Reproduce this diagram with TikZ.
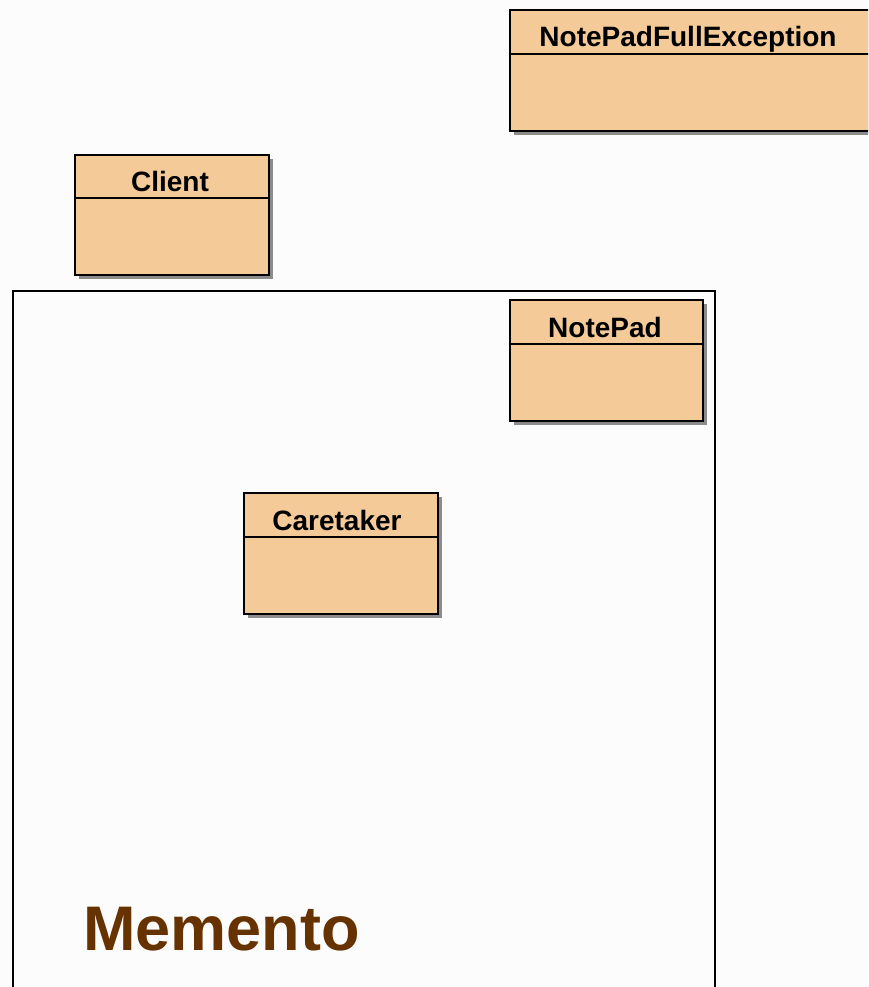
\documentclass[tikz,border=0pt]{standalone}
\usepackage{fontspec}
\setmainfont{Liberation Sans}
\definecolor{classfill}{HTML}{F4CB98}
\definecolor{pkgbrown}{HTML}{663300}
\definecolor{bgcol}{HTML}{FCFCFC}
\tikzset{
  classbox/.style={draw=black,line width=2.4pt,fill=classfill},
  classshadow/.style={fill=black!45},
  classname/.style={font=\fontsize{28}{28}\selectfont\bfseries,inner sep=0pt,anchor=base},
  pkgframe/.style={draw=black,line width=2.5pt},
}

\begin{document}
\begin{tikzpicture}[x=1pt,y=-1pt]
        \useasboundingbox (0,0) rectangle (868,987);
        \clip (0,0) rectangle (868,987);
        \fill[bgcol] (0,0) rectangle (868,987);

        % package frame
        \coordinate (P1) at (13,291);
        \coordinate (P2) at (715,1000);
        \draw[pkgframe] (P1) rectangle (P2);
        \node[anchor=base west,inner sep=0pt,text=pkgbrown,
              font=\fontsize{63}{63}\selectfont\bfseries] (memento) at (83,950) {Memento};

        \begin{scope}[shift={(510,10)}]
        \fill[classshadow] (4,4) rectangle (366,125);
        \draw[classbox] (0,0) rectangle (362,121);
        \draw[classbox] (0,44) -- (362,44);
        \node[classname] (exc) at (178,37) {NotePadFullException};
        \end{scope}

        \begin{scope}[shift={(75,155)}]
        \fill[classshadow] (4,4) rectangle (198,124);
        \draw[classbox] (0,0) rectangle (194,120);
        \draw[classbox] (0,43) -- (194,43);
        \node[classname] (client) at (95,37) {Client};
        \end{scope}

        \begin{scope}[shift={(510,300)}]
        \fill[classshadow] (4,4) rectangle (197,125);
        \draw[classbox] (0,0) rectangle (193,121);
        \draw[classbox] (0,44) -- (193,44);
        \node[classname] (notepad) at (95,37) {NotePad};
        \end{scope}

        \begin{scope}[shift={(244,493)}]
        \fill[classshadow] (4,4) rectangle (198,125);
        \draw[classbox] (0,0) rectangle (194,121);
        \draw[classbox] (0,44) -- (194,44);
        \node[classname] (caretaker) at (93,37) {Caretaker};
        \end{scope}
\end{tikzpicture}
\end{document}
